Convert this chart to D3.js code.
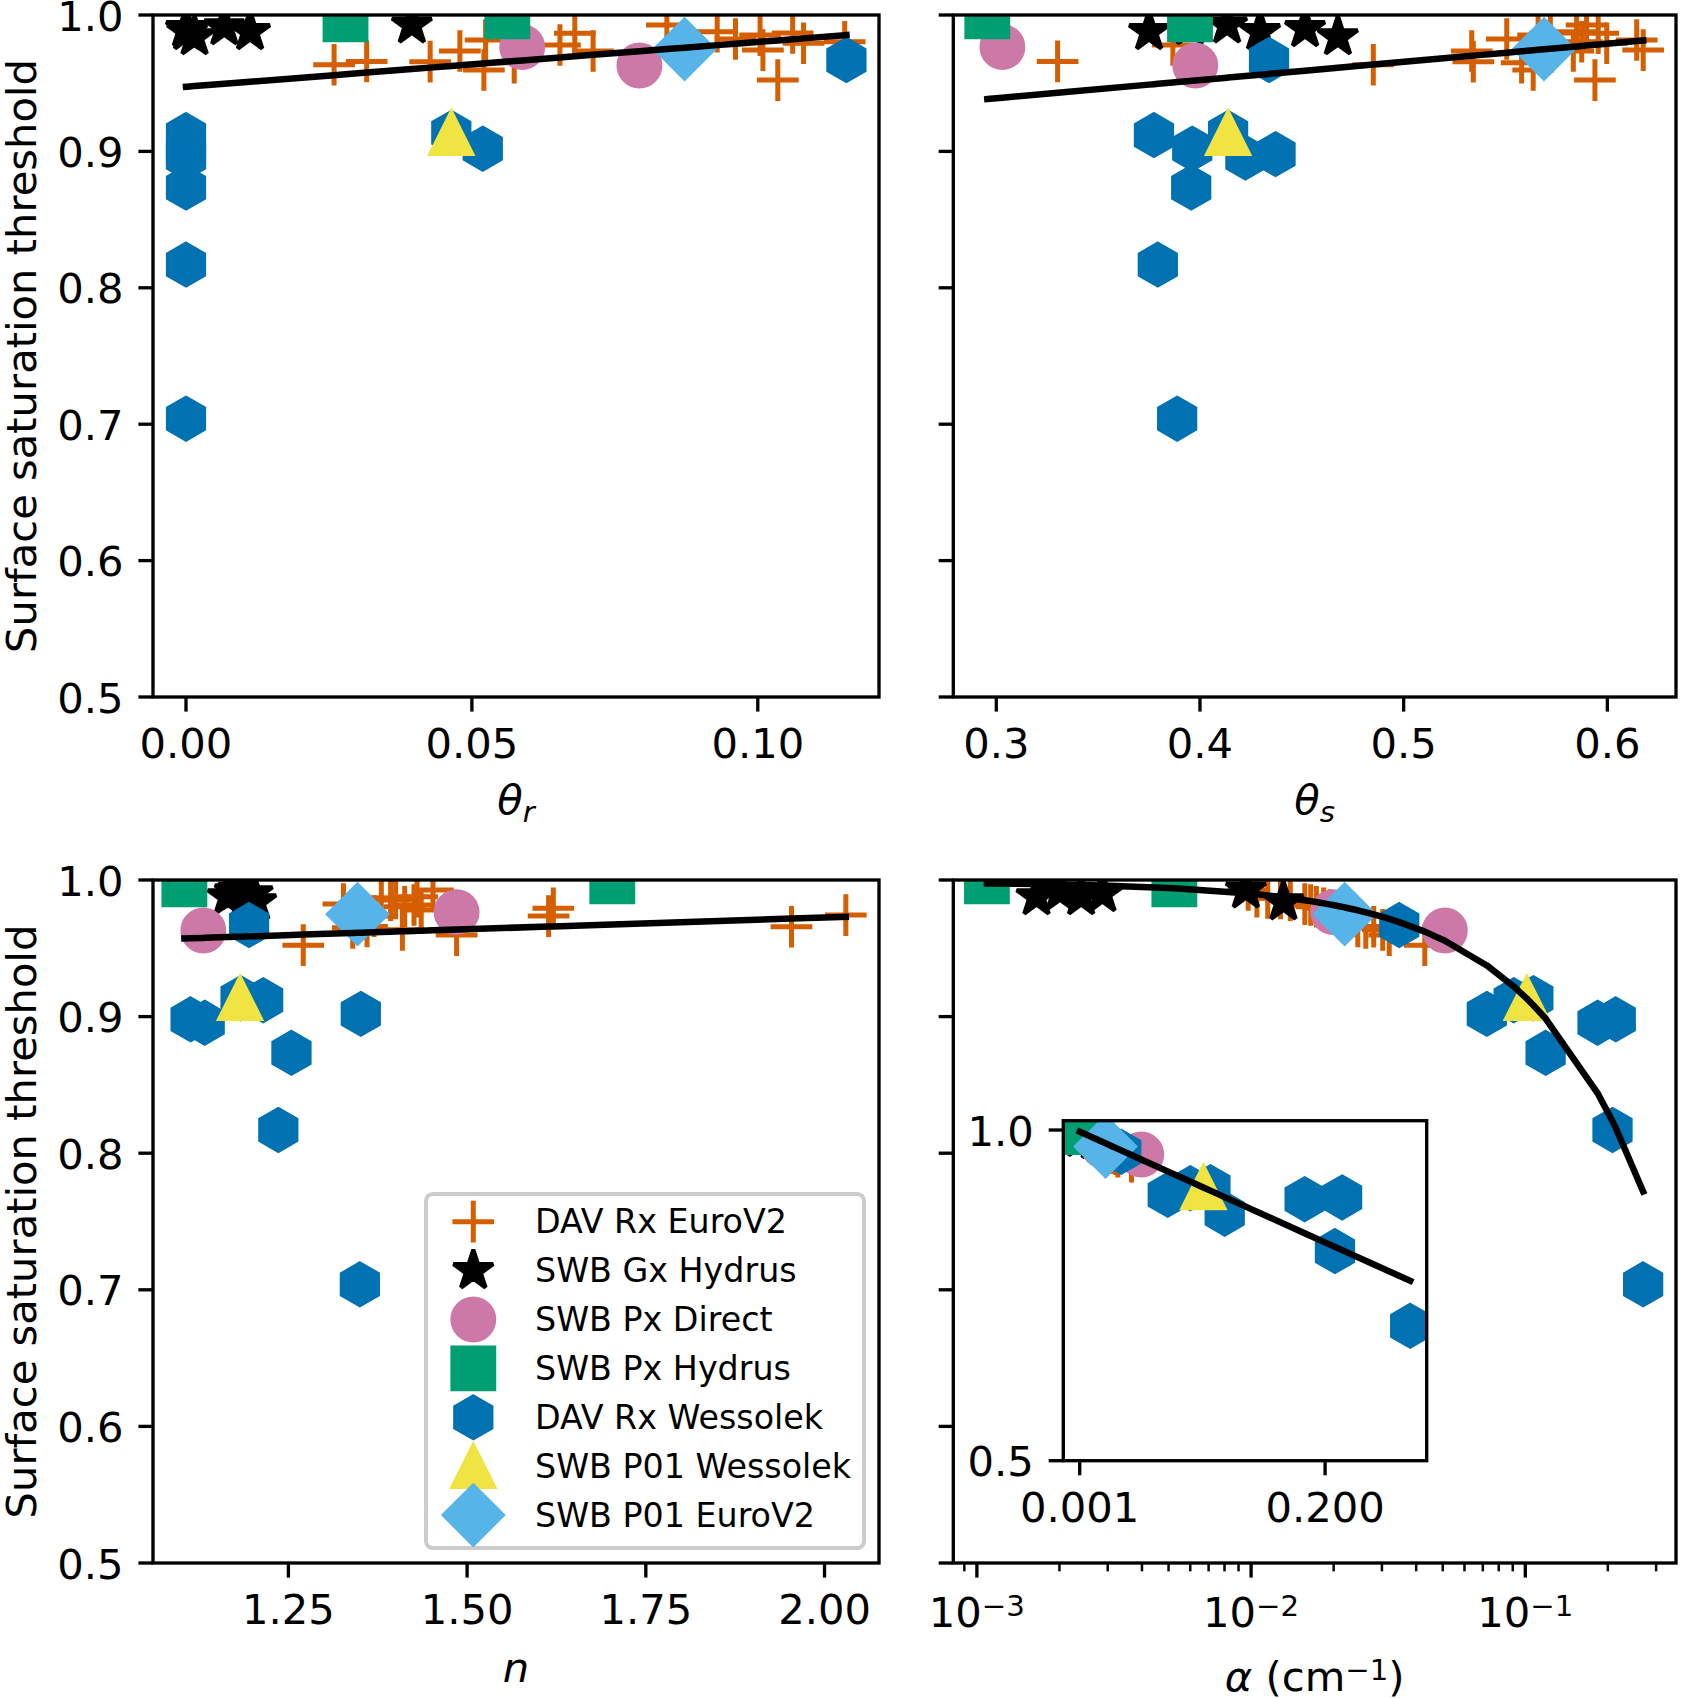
<!DOCTYPE html>
<html><head><meta charset="utf-8">
<script src="https://cdn.jsdelivr.net/npm/d3@7"></script>
<style>body{margin:0;background:#fff}svg{display:block}text{font-family:"DejaVu Sans",sans-serif;fill:#000}</style>
</head><body>
<script>
// ---------------- DATA ----------------
const seriesNames = ["DAV Rx EuroV2","SWB Gx Hydrus","SWB Px Direct","SWB Px Hydrus","DAV Rx Wessolek","SWB P01 Wessolek","SWB P01 EuroV2"];

// DAV Rx EuroV2
const euroThr    = [0.9523,0.9597,0.9635,0.9650,0.9658,0.9660,0.9736,0.9736,0.9743,0.9780,0.9793,0.9804,0.9817,0.9824,0.9853,0.9866,0.9868,0.9878,0.9927];
const euroThetaR = [0.1035,0.0521,0.0259,0.0574,0.0427,0.0316,0.0479,0.0712,0.1009,0.0654,0.1080,0.1152,0.0524,0.0961,0.1004,0.0680,0.1061,0.0929,0.0841];
const euroThetaS = [0.5939,0.5636,0.4851,0.5579,0.5342,0.3301,0.5334,0.5833,0.6176,0.3867,0.5997,0.5874,0.6144,0.5506,0.5660,0.5955,0.5720,0.5849,0.5898];
const euroN      = [1.2708,1.4853,1.4095,1.3400,1.9538,1.3600,1.3698,1.6140,2.0298,1.4358,1.6206,1.4127,1.4257,1.3270,1.3930,1.4000,1.3800,1.4300,1.4523];
const euroAlpha  = [0.0430,0.0319,0.0302,0.0262,0.0280,0.0245,0.0240,0.0220,0.0205,0.0195,0.0184,0.0173,0.0165,0.0157,0.0139,0.0128,0.0115,0.0105,0.00976];

// SWB Gx Hydrus
const gxThr    = [0.9878,0.9914,0.9878,0.9900,0.9927,0.9840];
const gxThetaR = [0.0002,0.0067,0.0112,0.0000,0.0395,0.0015];
const gxThetaS = [0.3750,0.3950,0.4295,0.4516,0.4133,0.4677];
const gxN      = [1.165,1.175,1.190,1.200,1.180,1.205];
const gxAlpha  = [0.00165,0.00201,0.00240,0.00287,0.00957,0.01312];

// SWB Px Direct
const pdThr    = [0.9765,0.9630];
const pdThetaR = [0.0588,0.0793];
const pdThetaS = [0.3030,0.3977];
const pdN      = [1.4853,1.1310];
const pdAlpha  = [0.0199,0.0509];

// SWB Px Hydrus
const phThr    = [0.9990,0.9968];
const phThetaR = [0.0562,0.0279];
const phThetaS = [0.2956,0.3951];
const phN      = [1.7031,1.1045];
const phAlpha  = [0.001088,0.00525];

// DAV Rx Wessolek
const wesThr    = [0.9670,0.9135,0.9120,0.9020,0.8980,0.8955,0.8735,0.8170,0.7040];
const wesThetaR = [0.1155,0.0464,0.0000,0.0519,0.0000,0.0000,0.0000,0.0000,0.0000];
const wesThetaS = [0.4339,0.4138,0.3774,0.3962,0.4371,0.4223,0.3957,0.3793,0.3888];
const wesN      = [1.1950,1.1831,1.2147,1.3513,1.1132,1.1329,1.2543,1.2359,1.3500];
const wesAlpha  = [0.0347,0.1070,0.0907,0.0724,0.2138,0.1834,0.1186,0.2080,0.2690];

// SWB P01 Wessolek
const p01wThr = [0.9135], p01wThetaR = [0.0464], p01wThetaS = [0.4138], p01wN = [1.1824], p01wAlpha = [0.1013];
// SWB P01 EuroV2
const p01eThr = [0.9750], p01eThetaR = [0.0872], p01eThetaS = [0.5689], p01eN = [1.3467], p01eAlpha = [0.02195];

// fitted lines: [intercept, slope]
const thetaRFit = [0.9474, 0.3284];
const thetaSFit = [0.8989, 0.1335];
const nFit      = [0.9382, 0.01718];
const alphaFit  = [0.9984, -0.8417];

// axis limits & ticks
const yLim = [0.5, 1.0];
const yTicks = [0.5,0.6,0.7,0.8,0.9,1.0];
const yTickLabels = ["0.5","0.6","0.7","0.8","0.9","1.0"];
const thetaRLim = [-0.00577, 0.1212];
const thetaRTicks = [0, 0.05, 0.10];
const thetaRTickLabels = ["0.00","0.05","0.10"];
const thetaSLim = [0.2789, 0.6337];
const thetaSTicks = [0.3,0.4,0.5,0.6];
const thetaSTickLabels = ["0.3","0.4","0.5","0.6"];
const nLim = [1.0606, 2.0762];
const nTicks = [1.25,1.5,1.75,2.0];
const nTickLabels = ["1.25","1.50","1.75","2.00"];
const alphaLim = [Math.pow(10,-3.086), Math.pow(10,-0.4504)];
const alphaTickExps = [-3,-2,-1];
const insetXLim = [-0.0123, 0.2824];
const insetYLim = [0.5, 1.0141];
const insetXTicks = [0.001, 0.200];
const insetXTickLabels = ["0.001","0.200"];
const insetYTicks = [0.5, 1.0];
const insetYTickLabels = ["0.5","1.0"];

// ---------------- DRAWING ----------------
const W=1683, H=1698;
const FS=41.67, SUB=29.2, LFS=33.3, MS=41.67, EW=4.17, PEW=5, SPW=3.33, TL=14.6, LW=6.5;

const series = [
 {name:seriesNames[0], shape:'plus',     color:'#D55E00', thr:euroThr, thetaR:euroThetaR, thetaS:euroThetaS, n:euroN, alpha:euroAlpha},
 {name:seriesNames[1], shape:'star',     color:'#000000', thr:gxThr, thetaR:gxThetaR, thetaS:gxThetaS, n:gxN, alpha:gxAlpha},
 {name:seriesNames[2], shape:'circle',   color:'#CC79A7', thr:pdThr, thetaR:pdThetaR, thetaS:pdThetaS, n:pdN, alpha:pdAlpha},
 {name:seriesNames[3], shape:'square',   color:'#009E73', thr:phThr, thetaR:phThetaR, thetaS:phThetaS, n:phN, alpha:phAlpha},
 {name:seriesNames[4], shape:'hexagon',  color:'#0072B2', thr:wesThr, thetaR:wesThetaR, thetaS:wesThetaS, n:wesN, alpha:wesAlpha},
 {name:seriesNames[5], shape:'triangle', color:'#F0E442', thr:p01wThr, thetaR:p01wThetaR, thetaS:p01wThetaS, n:p01wN, alpha:p01wAlpha},
 {name:seriesNames[6], shape:'diamond',  color:'#56B4E9', thr:p01eThr, thetaR:p01eThetaR, thetaS:p01eThetaS, n:p01eN, alpha:p01eAlpha}
];

function markerPath(shape){
  const r = MS/2;
  if(shape==='plus') return `M${-r},0H${r}M0,${-r}V${r}`;
  if(shape==='star'){ const p=[]; for(let i=0;i<10;i++){const a=-Math.PI/2+i*Math.PI/5, rr=i%2?r*0.381966:r; p.push([rr*Math.cos(a),rr*Math.sin(a)]);} return "M"+p.map(q=>q.join(",")).join("L")+"Z"; }
  if(shape==='circle') return `M${r},0A${r},${r} 0 1,1 ${-r},0A${r},${r} 0 1,1 ${r},0Z`;
  if(shape==='square') return `M${-r},${-r}H${r}V${r}H${-r}Z`;
  if(shape==='hexagon'){ const p=[]; for(let k=0;k<6;k++){const a=-Math.PI/2+k*Math.PI/3; p.push([r*Math.cos(a),r*Math.sin(a)]);} return "M"+p.map(q=>q.join(",")).join("L")+"Z"; }
  if(shape==='triangle') return `M0,${-r}L${-r},${r}L${r},${r}Z`;
  if(shape==='diamond'){ const h=r*Math.SQRT2; return `M0,${-h}L${h},0L0,${h}L${-h},0Z`; }
}
function styleMarker(sel, s){
  if(s.shape==='plus'){
    sel.attr('fill','none').attr('stroke',s.color).attr('stroke-width',PEW).attr('stroke-linecap','butt');
  } else {
    sel.attr('fill',s.color).attr('stroke',s.color).attr('stroke-width',EW)
       .attr('stroke-linejoin', s.shape==='star'?'bevel':'miter');
  }
}

const svg = d3.select('body').append('svg').attr('width',W).attr('height',H);
svg.append('rect').attr('width',W).attr('height',H).attr('fill','#fff');
const defs = svg.append('defs');

const panels = [
 {id:'p1', x0:153,   x1:879,  y0:15,  y1:697,  key:'thetaR', lim:thetaRLim, log:false, ticks:thetaRTicks, tickLabels:thetaRTickLabels, ylab:true,  fit:thetaRFit, xlabel:'thetaR'},
 {id:'p2', x0:953.3, x1:1676, y0:15,  y1:697,  key:'thetaS', lim:thetaSLim, log:false, ticks:thetaSTicks, tickLabels:thetaSTickLabels, ylab:false, fit:thetaSFit, xlabel:'thetaS'},
 {id:'p3', x0:153,   x1:879,  y0:880, y1:1563, key:'n',      lim:nLim,      log:false, ticks:nTicks,      tickLabels:nTickLabels,      ylab:true,  fit:nFit,      xlabel:'n'},
 {id:'p4', x0:953.3, x1:1676, y0:880, y1:1563, key:'alpha',  lim:alphaLim,  log:true,  ticks:null,        tickLabels:null,             ylab:false, fit:alphaFit,  xlabel:'alpha'}
];

function drawData(g, sx, sy, key, fit, clipId){
  const dg = g.append('g').attr('clip-path',`url(#${clipId})`);
  series.forEach(s=>{
    const pts = s.thr.map((t,i)=>({x:s[key][i], y:t}));
    const sel = dg.selectAll(null).data(pts).enter().append('path')
      .attr('d', markerPath(s.shape))
      .attr('transform', d=>`translate(${sx(d.x)},${sy(d.y)})`);
    styleMarker(sel, s);
  });
  // fit line through sorted x of all data
  let xs = [];
  series.forEach(s=>{ xs = xs.concat(s[key]); });
  xs = Array.from(new Set(xs)).sort((a,b)=>a-b);
  const line = d3.line().x(d=>sx(d)).y(d=>sy(fit[0]+fit[1]*d));
  dg.append('path').attr('d', line(xs)).attr('fill','none').attr('stroke','#000').attr('stroke-width',LW).attr('stroke-linecap','square').attr('stroke-linejoin','round');
}

panels.forEach(p=>{
  const g = svg.append('g');
  const sx = (p.log ? d3.scaleLog() : d3.scaleLinear()).domain(p.lim).range([p.x0,p.x1]);
  const sy = d3.scaleLinear().domain(yLim).range([p.y1,p.y0]);
  defs.append('clipPath').attr('id','clip'+p.id).append('rect')
    .attr('x',p.x0).attr('y',p.y0).attr('width',p.x1-p.x0).attr('height',p.y1-p.y0);
  drawData(g, sx, sy, p.key, p.fit, 'clip'+p.id);

  // spines
  g.append('rect').attr('x',p.x0).attr('y',p.y0).attr('width',p.x1-p.x0).attr('height',p.y1-p.y0)
    .attr('fill','none').attr('stroke','#000').attr('stroke-width',SPW).attr('stroke-linejoin','miter');

  // y ticks
  yTicks.forEach((v,i)=>{
    g.append('line').attr('x1',p.x0).attr('x2',p.x0-TL).attr('y1',sy(v)).attr('y2',sy(v)).attr('stroke','#000').attr('stroke-width',SPW);
    if(p.ylab) g.append('text').attr('x',p.x0-29.5).attr('y',sy(v)+15.5).attr('text-anchor','end').attr('font-size',FS).text(yTickLabels[i]);
  });

  // x ticks
  if(!p.log){
    p.ticks.forEach((v,i)=>{
      g.append('line').attr('x1',sx(v)).attr('x2',sx(v)).attr('y1',p.y1).attr('y2',p.y1+TL).attr('stroke','#000').attr('stroke-width',SPW);
      g.append('text').attr('x',sx(v)).attr('y',p.y1+61).attr('text-anchor','middle').attr('font-size',FS).text(p.tickLabels[i]);
    });
  } else {
    const majors = alphaTickExps.map(e=>Math.pow(10,e));
    sx.ticks().forEach(v=>{
      const isMajor = majors.some(m=>Math.abs(m-v)/m<1e-6);
      if(isMajor) return;
      g.append('line').attr('x1',sx(v)).attr('x2',sx(v)).attr('y1',p.y1).attr('y2',p.y1+8.33).attr('stroke','#000').attr('stroke-width',2.5);
    });
    alphaTickExps.forEach(e=>{
      const v = Math.pow(10,e);
      g.append('line').attr('x1',sx(v)).attr('x2',sx(v)).attr('y1',p.y1).attr('y2',p.y1+TL).attr('stroke','#000').attr('stroke-width',SPW);
      const t = g.append('text').attr('x',sx(v)).attr('y',p.y1+63.5).attr('text-anchor','middle').attr('font-size',FS);
      t.append('tspan').text('10');
      t.append('tspan').attr('font-size',SUB).attr('dy',-11).text('\u2212'+Math.abs(e));
    });
  }

  // x label
  const cx = (p.x0+p.x1)/2;
  if(p.xlabel==='thetaR' || p.xlabel==='thetaS'){
    const t = g.append('text').attr('x',cx).attr('y',p.y1+117).attr('text-anchor','middle').attr('font-size',FS);
    t.append('tspan').attr('font-style','italic').text('\u03b8');
    t.append('tspan').attr('font-style','italic').attr('font-size',SUB).attr('dy',8).text(p.xlabel==='thetaR'?'r':'s');
  } else if(p.xlabel==='n'){
    g.append('text').attr('x',cx).attr('y',p.y1+119).attr('text-anchor','middle').attr('font-size',FS).attr('font-style','italic').text('n');
  } else {
    const t = g.append('text').attr('x',cx).attr('y',p.y1+128).attr('text-anchor','middle').attr('font-size',FS);
    t.append('tspan').attr('font-style','italic').text('\u03b1');
    t.append('tspan').text(' (cm');
    t.append('tspan').attr('font-size',SUB).attr('dy',-11).text('\u22121');
    t.append('tspan').attr('dy',11).text(')');
  }

  // y label
  if(p.ylab){
    g.append('text').attr('transform',`translate(36,${(p.y0+p.y1)/2}) rotate(-90)`)
      .attr('text-anchor','middle').attr('font-size',FS).text('Surface saturation threshold');
  }
});

// ---------------- INSET ----------------
(function(){
  const ix0=1063.3, ix1=1426.7, iy0=1120.7, iy1=1460.7;
  const g = svg.append('g');
  g.append('rect').attr('x',ix0).attr('y',iy0).attr('width',ix1-ix0).attr('height',iy1-iy0).attr('fill','#fff');
  const sx = d3.scaleLinear().domain(insetXLim).range([ix0,ix1]);
  const sy = d3.scaleLinear().domain(insetYLim).range([iy1,iy0]);
  defs.append('clipPath').attr('id','clipInset').append('rect').attr('x',ix0).attr('y',iy0).attr('width',ix1-ix0).attr('height',iy1-iy0);
  drawData(g, sx, sy, 'alpha', alphaFit, 'clipInset');
  g.append('rect').attr('x',ix0).attr('y',iy0).attr('width',ix1-ix0).attr('height',iy1-iy0)
    .attr('fill','none').attr('stroke','#000').attr('stroke-width',SPW);
  insetYTicks.forEach((v,i)=>{
    g.append('line').attr('x1',ix0).attr('x2',ix0-TL).attr('y1',sy(v)).attr('y2',sy(v)).attr('stroke','#000').attr('stroke-width',SPW);
    g.append('text').attr('x',ix0-29.5).attr('y',sy(v)+15.5).attr('text-anchor','end').attr('font-size',FS).text(insetYTickLabels[i]);
  });
  insetXTicks.forEach((v,i)=>{
    g.append('line').attr('x1',sx(v)).attr('x2',sx(v)).attr('y1',iy1).attr('y2',iy1+TL).attr('stroke','#000').attr('stroke-width',SPW);
    g.append('text').attr('x',sx(v)).attr('y',iy1+61).attr('text-anchor','middle').attr('font-size',FS).text(insetXTickLabels[i]);
  });
})();

// ---------------- LEGEND ----------------
(function(){
  const lx0=426, ly0=1194, lx1=864, ly1=1548;
  const g = svg.append('g');
  g.append('rect').attr('x',lx0).attr('y',ly0).attr('width',lx1-lx0).attr('height',ly1-ly0).attr('rx',6.7).attr('ry',6.7)
    .attr('fill','#fff').attr('fill-opacity',0.8).attr('stroke','#cccccc').attr('stroke-width',4);
  series.forEach((s,i)=>{
    const cy = 1221.7 + i*48.9;
    const m = g.append('path').attr('d',markerPath(s.shape)).attr('transform',`translate(473.3,${cy})`);
    styleMarker(m, s);
    g.append('text').attr('x',535).attr('y',cy+11.7).attr('font-size',LFS).text(s.name);
  });
})();
</script>
</body></html>
